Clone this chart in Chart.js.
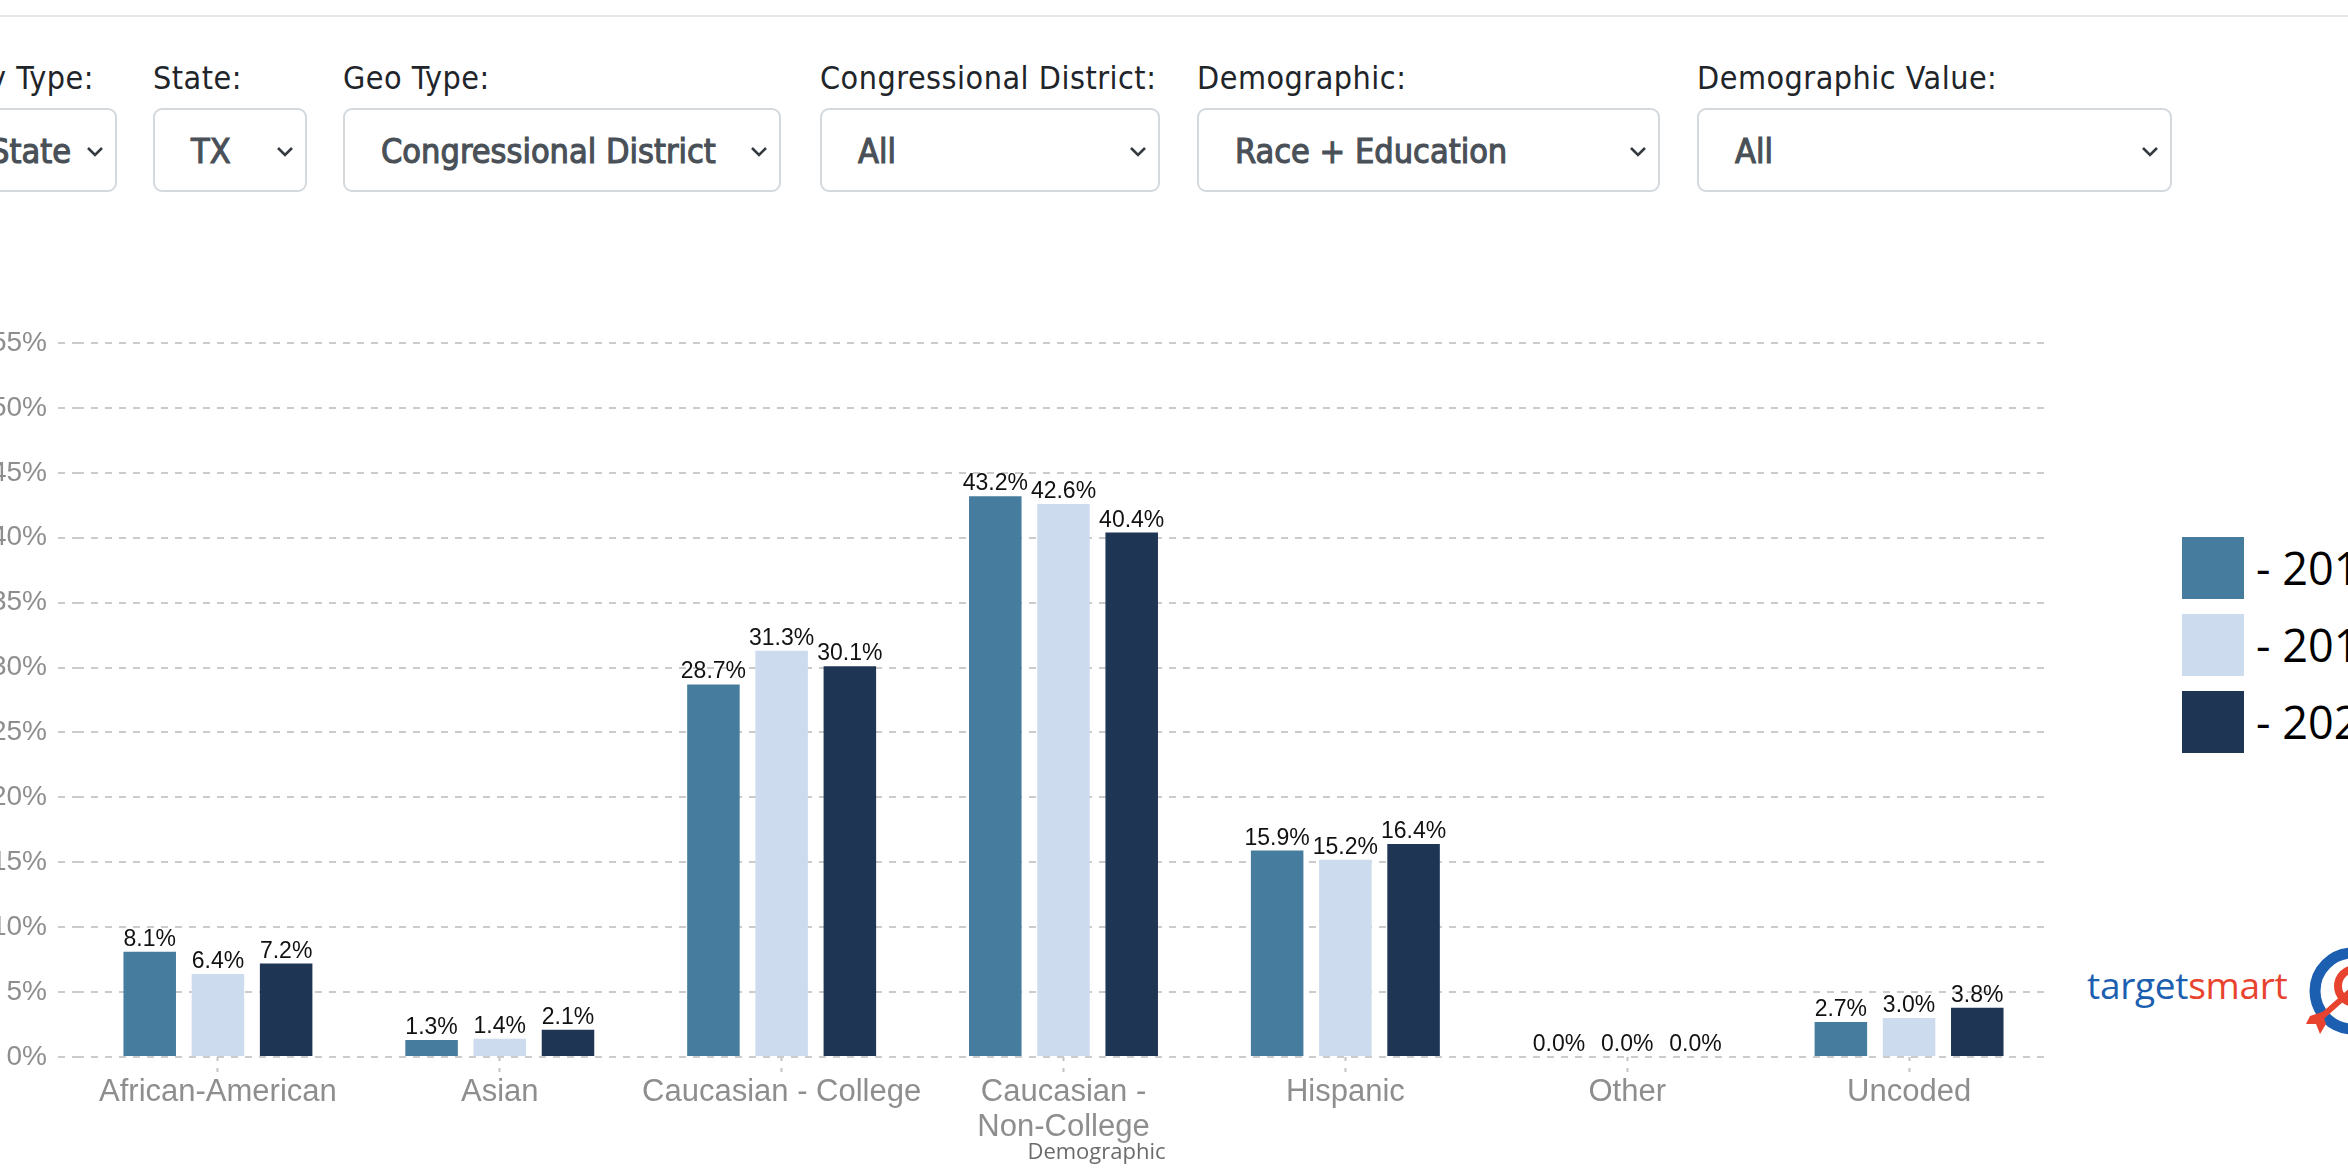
<!DOCTYPE html>
<html>
<head>
<meta charset="utf-8">
<script src="https://cdn.jsdelivr.net/npm/chart.js@4.4.0/dist/chart.umd.min.js"></script>
<style>
html,body{margin:0;padding:0;}
body{width:2348px;height:1174px;overflow:hidden;background:#fff;position:relative;}
.topline{position:absolute;left:0;width:2348px;top:15px;height:2px;background:#e7e7e7;}
.lbl{position:absolute;top:62px;font-family:"DejaVu Sans Condensed","Roboto",sans-serif;font-size:32px;letter-spacing:0.5px;color:#212529;white-space:nowrap;line-height:32px;}
.sel{position:absolute;top:108px;height:84px;box-sizing:border-box;border:2px solid #d4d9de;border-radius:9px;background:#fff;}
.sel .txt{position:absolute;left:36px;top:23px;font-family:"DejaVu Sans Condensed","Roboto",sans-serif;font-size:34px;font-weight:normal;-webkit-text-stroke:1.1px #495057;color:#495057;white-space:nowrap;line-height:36px;}
.sel svg{position:absolute;right:10px;top:35px;}
#chartBox{position:absolute;left:0;top:250px;width:2070px;height:924px;}
.leg{position:absolute;left:2182px;width:62px;height:62px;}
.legt{position:absolute;left:2256px;font-family:"Open Sans","Liberation Sans",sans-serif;font-size:45px;color:#000;white-space:nowrap;line-height:62px;}
.logo{position:absolute;left:2087px;top:960px;font-family:"Open Sans","Noto Sans",sans-serif;font-size:37px;line-height:50px;white-space:nowrap;letter-spacing:-0.3px;}
</style>
</head>
<body>
<div class="topline"></div>

<div class="lbl" style="right:2254px;">Summary Type:</div>
<div class="sel" style="left:-200px;width:317px;"><span class="txt" style="left:auto;right:44px;">State</span><svg width="20" height="13" viewBox="0 0 20 13"><polyline points="3,3 10,10 17,3" fill="none" stroke="#343a40" stroke-width="2.6"/></svg></div>

<div class="lbl" style="left:153px;">State:</div>
<div class="sel" style="left:153px;width:154px;"><span class="txt">TX</span><svg width="20" height="13" viewBox="0 0 20 13"><polyline points="3,3 10,10 17,3" fill="none" stroke="#343a40" stroke-width="2.6"/></svg></div>

<div class="lbl" style="left:343px;">Geo Type:</div>
<div class="sel" style="left:343px;width:438px;"><span class="txt">Congressional District</span><svg width="20" height="13" viewBox="0 0 20 13"><polyline points="3,3 10,10 17,3" fill="none" stroke="#343a40" stroke-width="2.6"/></svg></div>

<div class="lbl" style="left:820px;">Congressional District:</div>
<div class="sel" style="left:820px;width:340px;"><span class="txt">All</span><svg width="20" height="13" viewBox="0 0 20 13"><polyline points="3,3 10,10 17,3" fill="none" stroke="#343a40" stroke-width="2.6"/></svg></div>

<div class="lbl" style="left:1197px;">Demographic:</div>
<div class="sel" style="left:1197px;width:463px;"><span class="txt">Race + Education</span><svg width="20" height="13" viewBox="0 0 20 13"><polyline points="3,3 10,10 17,3" fill="none" stroke="#343a40" stroke-width="2.6"/></svg></div>

<div class="lbl" style="left:1697px;">Demographic Value:</div>
<div class="sel" style="left:1697px;width:475px;"><span class="txt">All</span><svg width="20" height="13" viewBox="0 0 20 13"><polyline points="3,3 10,10 17,3" fill="none" stroke="#343a40" stroke-width="2.6"/></svg></div>

<div id="chartBox"><canvas id="c"></canvas></div>

<div class="leg" style="top:537px;background:#467c9e;"></div>
<div class="legt" style="top:537px;">- 2016</div>
<div class="leg" style="top:614px;background:#ccdcee;"></div>
<div class="legt" style="top:614px;">- 2018</div>
<div class="leg" style="top:691px;background:#1e3554;"></div>
<div class="legt" style="top:691px;">- 2020</div>

<div class="logo"><span style="color:#1c5fb0;">target</span><span style="color:#e8432f;">smart</span></div>
<svg style="position:absolute;left:2300px;top:940px;" width="60" height="110" viewBox="0 0 60 110">
  <circle cx="53" cy="51" r="38" fill="none" stroke="#1c5fb0" stroke-width="11"/>
  <circle cx="55" cy="46" r="17" fill="none" stroke="#e8432f" stroke-width="8"/>
  <line x1="52" y1="50" x2="18" y2="80" stroke="#e8432f" stroke-width="6"/>
  <polygon points="10,76 22,72 26,84 20,94 16,84 6,84" fill="#e8432f"/>
</svg>

<script>
const categories = ["African-American", "Asian", "Caucasian - College", ["Caucasian -", "Non-College"], "Hispanic", "Other", "Uncoded"];
const seriesNames = ["2016", "2018", "2020"];
const values2016 = [8.1, 1.3, 28.7, 43.2, 15.9, 0.0, 2.7];
const values2018 = [6.4, 1.4, 31.3, 42.6, 15.2, 0.0, 3.0];
const values2020 = [7.2, 2.1, 30.1, 40.4, 16.4, 0.0, 3.8];
const yTicks = [0, 5, 10, 15, 20, 25, 30, 35, 40, 45, 50, 55];
const xTitle = "Demographic";
const colors = ["#467c9e", "#ccdcee", "#1e3554"];

const valueLabels = {
  id: 'valueLabels',
  afterDatasetsDraw(chart) {
    const ctx = chart.ctx;
    ctx.save();
    ctx.font = '23px "Liberation Sans", Arial, sans-serif';
    ctx.fillStyle = '#111';
    ctx.textAlign = 'center';
    ctx.textBaseline = 'alphabetic';
    chart.data.datasets.forEach((ds, i) => {
      chart.getDatasetMeta(i).data.forEach((bar, j) => {
        ctx.fillText(ds.data[j].toFixed(1) + '%', bar.x, bar.y - 6);
      });
    });
    const xs = chart.scales.x;
    ctx.font = '22px "Open Sans", "Noto Sans", sans-serif';
    ctx.fillStyle = '#6b6b6b';
    ctx.textBaseline = 'middle';
    ctx.fillText(xTitle, (xs.left + xs.right) / 2 + 33, xs.bottom - 13);
    ctx.restore();
  }
};

new Chart(document.getElementById('c'), {
  type: 'bar',
  data: {
    labels: categories,
    datasets: [
      {label: seriesNames[0], data: values2016, backgroundColor: colors[0]},
      {label: seriesNames[1], data: values2018, backgroundColor: colors[1]},
      {label: seriesNames[2], data: values2020, backgroundColor: colors[2]}
    ]
  },
  options: {
    responsive: true,
    maintainAspectRatio: false,
    animation: false,
    devicePixelRatio: 1,
    layout: {padding: {top: 93, right: 20, bottom: 8, left: 0}},
    plugins: {legend: {display: false}, tooltip: {enabled: false}},
    datasets: {bar: {categoryPercentage: 0.726, barPercentage: 0.77}},
    scales: {
      x: {
        grid: {display: true, drawOnChartArea: false, drawTicks: true, offset: false, tickLength: 15, tickColor: '#c4c4c4', tickWidth: 2, tickBorderDash: [4, 7]},
        border: {display: false},
        ticks: {color: '#8e8e8e', padding: 3, font: {family: '"Liberation Sans", Arial, sans-serif', size: 31, lineHeight: 1.12}, maxRotation: 0, autoSkip: false},
        title: {display: false},
        afterFit: (axis) => { axis.height = 109; }
      },
      y: {
        min: 0, max: 55,
        afterBuildTicks: (axis) => { axis.ticks = yTicks.map(v => ({value: v})); },
        grid: {color: '#cbcbcb', lineWidth: 2, drawTicks: true, tickLength: 19, tickColor: '#cbcbcb', tickWidth: 2, tickBorderDash: [7, 7]},
        border: {display: false, dash: [7, 7]},
        ticks: {color: '#8e8e8e', padding: 11, font: {family: '"Liberation Sans", Arial, sans-serif', size: 28}, callback: (v) => v + '%'},
        afterFit: (axis) => { axis.width = 77; }
      }
    }
  },
  plugins: [valueLabels]
});
</script>
</body>
</html>
